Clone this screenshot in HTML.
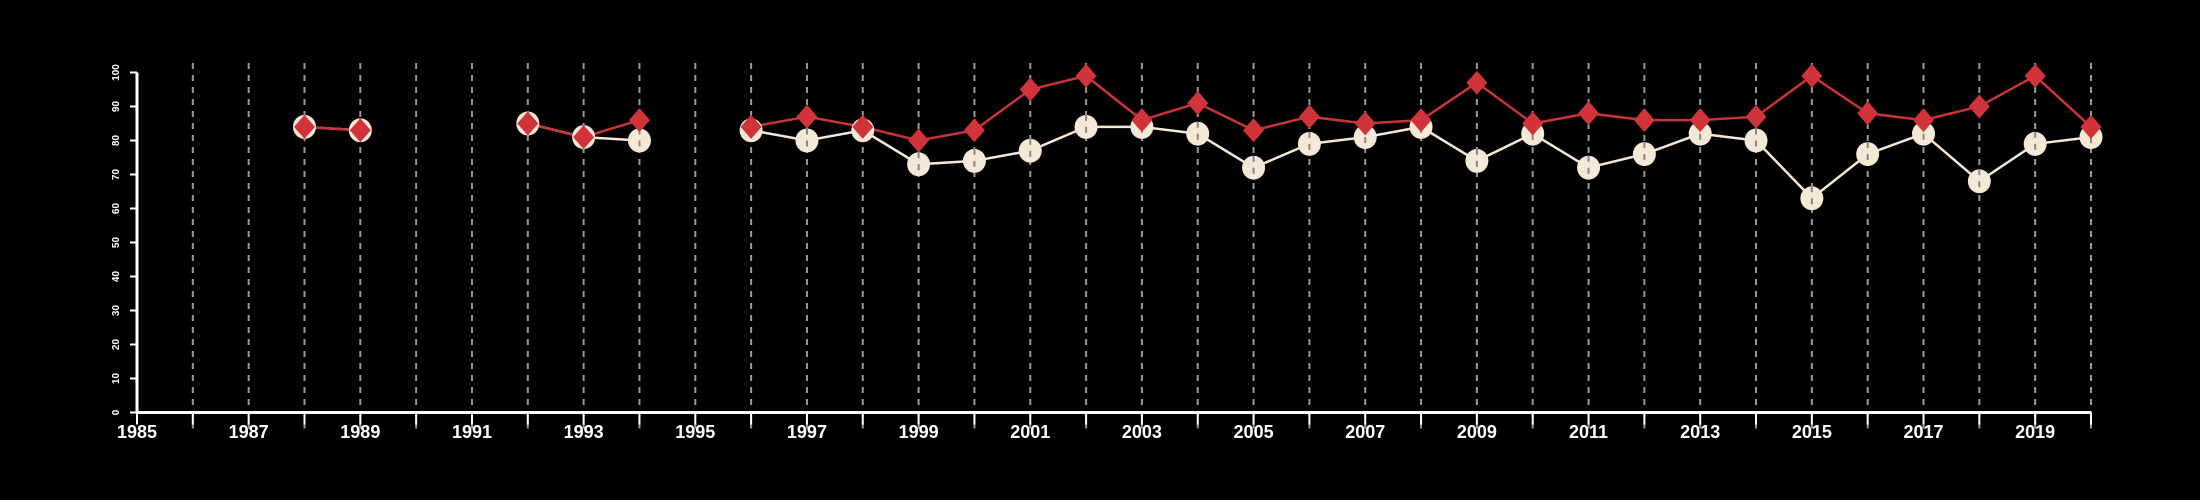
<!DOCTYPE html>
<html><head><meta charset="utf-8"><style>
html,body{margin:0;padding:0;background:#000;}
svg{display:block;font-family:"Liberation Sans",sans-serif;}
</style></head><body>
<svg id="chart" width="2200" height="500" xmlns="http://www.w3.org/2000/svg">
<rect width="2200" height="500" fill="#000"/>
<g id="grid"></g>
<g id="axes"></g>
<g id="series"></g>
</svg>
<script>
const years = [1988,1989,1992,1993,1994,1996,1997,1998,1999,2000,2001,2002,2003,2004,2005,2006,2007,2008,2009,2010,2011,2012,2013,2014,2015,2016,2017,2018,2019,2020];
const redValues = [84,83,85,81,86,84,87,84,80,83,95,99,86,91,83,87,85,86,97,85,88,86,86,87,99,88,86,90,99,84];
const creamValues = [84,83,85,81,80,83,80,83,73,74,77,84,84,82,72,79,81,84,74,82,72,76,82,80,63,76,82,68,79,81];
const yTicks = [0,10,20,30,40,50,60,70,80,90,100];
const xLabels = [1985,1987,1989,1991,1993,1995,1997,1999,2001,2003,2005,2007,2009,2011,2013,2015,2017,2019];
const xMin = 1985, xMax = 2020;

const NS = "http://www.w3.org/2000/svg";
const X = v => 137 + (v - xMin) * (2091 - 137) / (xMax - xMin);
const Y = v => 412.5 - v * 3.4;
function mk(tag, attrs, parent){const e=document.createElementNS(NS,tag);for(const k in attrs)e.setAttribute(k,attrs[k]);parent.appendChild(e);return e;}
const grid=document.getElementById('grid'), axes=document.getElementById('axes'), series=document.getElementById('series');

// axes
let ax=mk('line',{x1:X(xMin),x2:X(xMax),y1:Y(0),y2:Y(0),stroke:'#fff','stroke-width':3},axes);


let ay=mk('line',{x1:X(xMin),x2:X(xMin),y1:Y(0),y2:Y(100),stroke:'#fff','stroke-width':3},axes);


yTicks.forEach(t=>{
  const l=mk('line',{x1:X(xMin)-7,x2:X(xMin),y1:Y(t),y2:Y(t),stroke:'#fff','stroke-width':2},axes);
  
  
  const tx=mk('text',{x:0,y:0,transform:`translate(119,${Y(t)}) rotate(-90)`,'text-anchor':'middle',fill:'#fff','font-size':10,'font-weight':'bold'},axes);
  tx.textContent=t;
  
  
});
for(let yr=xMin; yr<=xMax; yr++){
  const tk=mk('line',{x1:X(yr),x2:X(yr),y1:Y(0),y2:Y(0)+12,stroke:'#fff','stroke-width':2},axes);
  
  
  if(yr>xMin){
    const g=mk('line',{x1:X(yr),x2:X(yr),y1:63,y2:Y(0)+16,stroke:'#999','stroke-width':2,'stroke-dasharray':'6,6'},grid);
    
    
  }
}
xLabels.forEach(yr=>{
  const t=mk('text',{x:X(yr),y:438,'text-anchor':'middle',fill:'#fff','font-size':18,'font-weight':'bold'},axes);
  t.textContent=yr;
  
  
});

function segments(vals){
  const segs=[];let cur=[];
  years.forEach((yr,i)=>{
    if(i>0 && yr-years[i-1]>1){segs.push(cur);cur=[];}
    cur.push([X(yr),Y(vals[i])]);
  });
  segs.push(cur);return segs;
}
// cream line + circles
segments(creamValues).forEach(s=>{
  const p=mk('polyline',{points:s.map(q=>q.join(',')).join(' '),fill:'none',stroke:'#f5e8d6','stroke-width':2.5},series);
  
  
});
segments(redValues).forEach(s=>{
  const p=mk('polyline',{points:s.map(q=>q.join(',')).join(' '),fill:'none',stroke:'#c9333a','stroke-width':2.5},series);
  
  
});
years.forEach((yr,i)=>{
  const c=mk('ellipse',{cx:X(yr),cy:Y(creamValues[i]),rx:11.5,ry:12,fill:'#f5e8d6'},series);
  
  
  const d=mk('line',{x1:X(yr),x2:X(yr),y1:Y(creamValues[i])-12,y2:Y(creamValues[i])+12,stroke:'#888','stroke-width':2,'stroke-dasharray':'6,6'},series);
  
  
});
years.forEach((yr,i)=>{
  const x=X(yr),y=Y(redValues[i]);
  const d=mk('polygon',{points:`${x},${y-12} ${x+10.5},${y} ${x},${y+12} ${x-10.5},${y}`,fill:'#d0333a'},series);
  
  
});
</script>
</body></html>
